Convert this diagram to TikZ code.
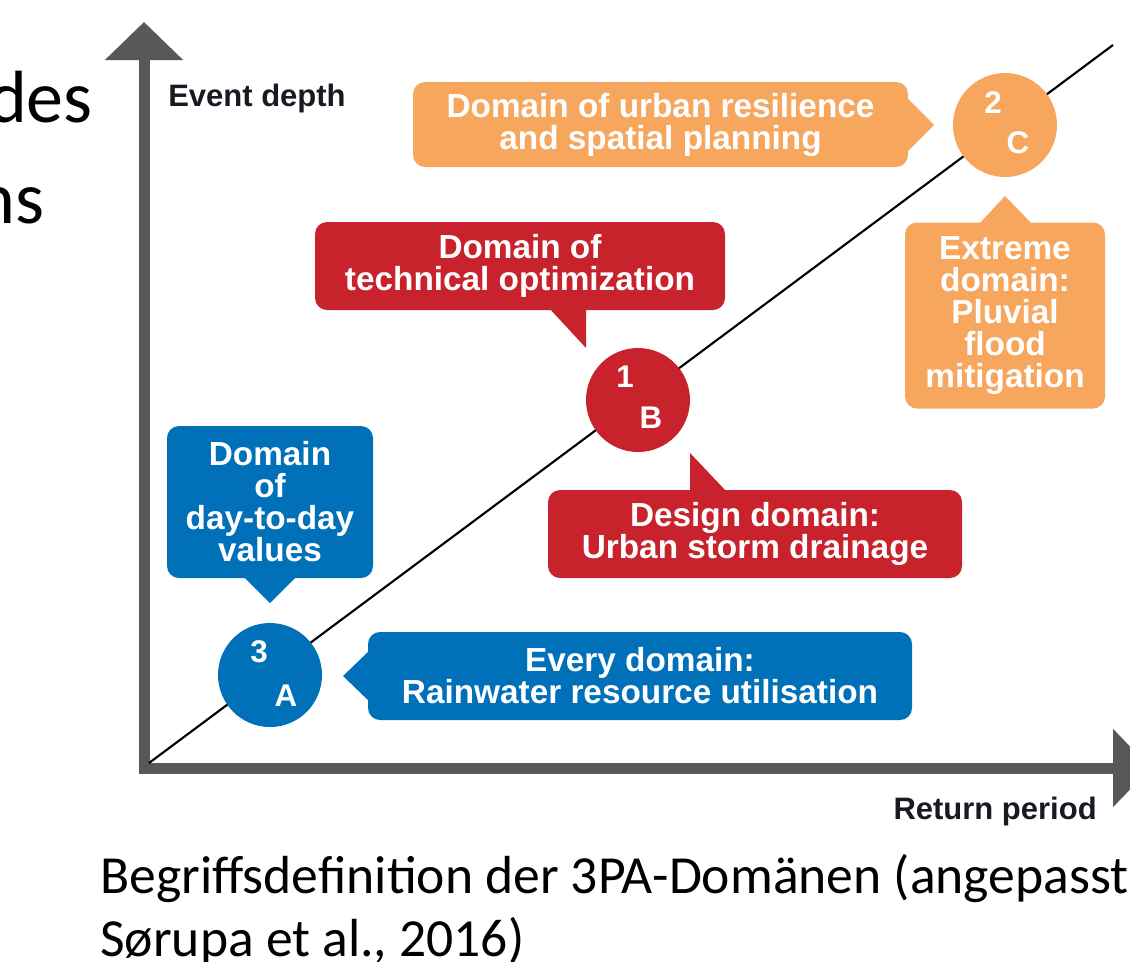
\documentclass[tikz,border=0pt]{standalone}
\usepackage{fontspec}
\setmainfont{Liberation Sans}
\newfontfamily\capfont{Carlito}
\usetikzlibrary{positioning, arrows.meta, calc}

\definecolor{domorange}{RGB}{246,166,93}
\definecolor{domred}{RGB}{200,34,44}
\definecolor{domblue}{RGB}{0,112,185}
\definecolor{axisgray}{RGB}{88,88,90}
\definecolor{labelink}{RGB}{25,25,35}

\begin{document}
\begin{tikzpicture}[x=0.75pt, y=-0.75pt,
		box/.style={rounded corners=9pt, inner sep=0pt, align=center, text=white, font=\fontsize{25}{24}\selectfont\bfseries},
		dom/.style={circle, minimum size=78pt, inner sep=0pt},
		circlbl/.style={text=white, font=\fontsize{23.5}{24}\selectfont\bfseries, inner sep=0pt},
		axis/.style={line width=8.25pt, axisgray, -{Triangle[length=28.5pt, width=57pt]}},
		axlabel/.style={font=\fontsize{23.25}{24}\selectfont\bfseries, text=labelink, inner sep=0pt}]
			\useasboundingbox (0,0) rectangle (1130,961);
			\clip (0,0) rectangle (1130,961);

			% slide title, cut at the left edge
			\node (title1) [anchor=base east, inner sep=0pt, font=\capfont\fontsize{55.5}{60}\selectfont] at (93,122) {des};
			\node (title2) [anchor=base east, inner sep=0pt, font=\capfont\fontsize{55.5}{60}\selectfont] at (45,223) {ns};

			% axes
			\coordinate (ybot) at (144,773.5);
			\coordinate (ytop) at (144,22);
			\coordinate (xleft) at (138.5,768);
			\coordinate (xright) at (1151,768);
			\draw[axis] (ybot) -- (ytop);
			\draw[axis] (xleft) -- (xright);
			\node (ylab) [axlabel, anchor=base west] at (168,106) {Event depth};
			\node (xlab) [axlabel, anchor=base east] at (1097,819) {Return period};

			% diagonal
			\coordinate (d0) at (149,763);
			\coordinate (d1) at (1113,45);
			\draw[black, line width=1.6pt] (d0) -- (d1);

			% domains
			\node (cA) [dom, fill=domblue] at (270,675) {};
			\node (cB) [dom, fill=domred] at (638,400) {};
			\node (cC) [dom, fill=domorange] at (1005,125) {};
			\node (nA) [circlbl] at ($(cA)+(-11,-23)$) {3};
			\node (lA) [circlbl] at ($(cA)+(16,21)$) {A};
			\node (nB) [circlbl] at ($(cB)+(-13,-23)$) {1};
			\node (lB) [circlbl] at ($(cB)+(13,18)$) {B};
			\node (nC) [circlbl] at ($(cC)+(-12,-22)$) {2};
			\node (lC) [circlbl] at ($(cC)+(13,18)$) {C};

			% callouts
			\node (resil) [box, fill=domorange, minimum width=371.25pt, minimum height=63.75pt] at (660.5,124.5) {Domain of urban resilience\\and spatial planning};
			\fill[domorange] (906,97) -- (934,125) -- (906,153) -- cycle;
			\node (extreme) [box, fill=domorange, minimum width=150pt, minimum height=139.5pt] at (1005,315.5) {Extreme\\domain:\\Pluvial\\flood\\mitigation};
			\fill[domorange] (979,224) -- (1005,196) -- (1032,224) -- cycle;
			\node (tech) [box, fill=domred, minimum width=307.5pt, minimum height=66pt] at (520,266) {Domain of\\technical optimization};
			\fill[domred] (549,308) -- (586,308) -- (586,348) -- cycle;
			\node (design) [box, fill=domred, minimum width=310.5pt, minimum height=66pt] at (755,534) {Design domain:\\Urban storm drainage};
			\fill[domred] (690,492) -- (690,453) -- (727,492) -- cycle;
			\node (daily) [box, fill=domblue, minimum width=154.5pt, minimum height=114pt] at (270,502) {Domain\\of\\day-to-day\\values};
			\fill[domblue] (243,576) -- (270,603) -- (297,576) -- cycle;
			\node (every) [box, fill=domblue, minimum width=408pt, minimum height=66pt] at (640,676) {Every domain:\\Rainwater resource utilisation};
			\fill[domblue] (370,650) -- (343,676) -- (370,702) -- cycle;

			% caption
			\node (cap1) [anchor=base west, inner sep=0pt, font=\capfont\fontsize{40.2}{46}\selectfont] at (100,893) {Begriffsdefinition der 3PA-Domänen (angepasst};
			\node (cap2) [anchor=base west, inner sep=0pt, font=\capfont\fontsize{40.2}{46}\selectfont] at (100,956) {Sørupa et al., 2016)};
		\end{tikzpicture}
\end{document}
